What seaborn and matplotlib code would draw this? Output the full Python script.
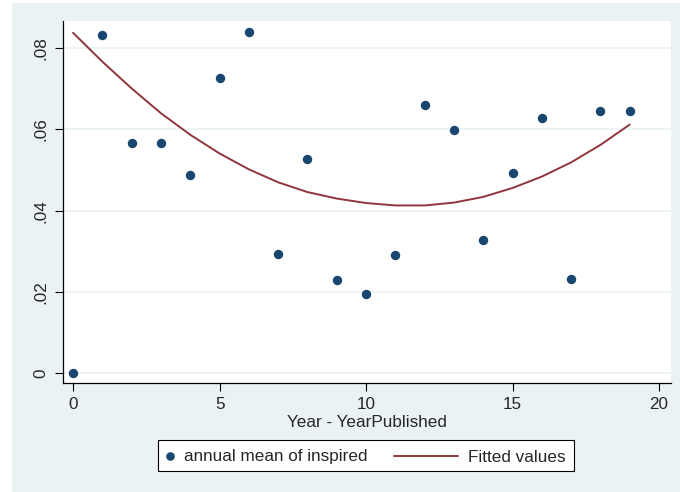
import numpy as np
import pandas as pd
import matplotlib
matplotlib.use("Agg")
import matplotlib.pyplot as plt
import seaborn as sns
from matplotlib.lines import Line2D
from matplotlib.patches import Rectangle

years = list(range(20))
inspired = [0.0, 0.0832, 0.0566, 0.0566, 0.0487, 0.0726, 0.0839, 0.0293, 0.0527, 0.0229,
            0.0194, 0.0290, 0.0660, 0.0598, 0.0327, 0.0492, 0.0628, 0.0231, 0.0645, 0.0645]
fitted = [0.0838, 0.0767, 0.0701, 0.0640, 0.0587, 0.0541, 0.0502, 0.0470, 0.0446, 0.0430,
          0.0419, 0.0413, 0.0413, 0.0420, 0.0434, 0.0456, 0.0484, 0.0519, 0.0562, 0.0612]
yticks = [0, 0.02, 0.04, 0.06, 0.08]
ytick_labels = ["0", ".02", ".04", ".06", ".08"]
xticks = [0, 5, 10, 15, 20]
legend_labels = ["annual mean of inspired", "Fitted values"]

df = pd.DataFrame({"x": years, "y": inspired, "fit": fitted})

sns.set_style("white")
plt.rcParams["font.family"] = ["Liberation Sans", "DejaVu Sans"]

NAVY = "#1A476F"
MAROON = "#90353B"
BG = "#EAF2F3"
FS = 12.3

W, H = 680, 492
fig = plt.figure(figsize=(6.8, 4.92), dpi=100, facecolor="white")
fig.patches.append(Rectangle((12 / W, 0), 1 - 12 / W, 1 - 3 / H,
                             transform=fig.transFigure, facecolor=BG,
                             edgecolor="none", zorder=-10))
ax = fig.add_axes([62.5 / W, 1 - 383 / H, (671 - 62.5) / W, (383 - 21) / H])
ax.set_facecolor("white")

sns.lineplot(data=df, x="x", y="fit", ax=ax, color=MAROON, lw=1.4, zorder=2)
sns.scatterplot(data=df, x="x", y="y", ax=ax, color=NAVY, s=46, edgecolor=NAVY,
                linewidth=0, zorder=3)

ax.set_xlim(-0.36, 20.41)
ax.set_ylim(-0.0024, 0.0867)
ax.set_yticks(yticks)
ax.set_yticklabels(ytick_labels, rotation=90, va="center")
ax.set_xticks(xticks)
ax.set_xticklabels([str(t) for t in xticks])
ax.tick_params(axis="both", direction="out", length=6, width=0.8, color="black",
               labelsize=FS, pad=4, left=True, bottom=True)
ax.grid(axis="y", color=BG, lw=1.2)
ax.set_axisbelow(True)
for s in ["top", "right"]:
    ax.spines[s].set_visible(False)
for s in ["left", "bottom"]:
    ax.spines[s].set_color("black")
    ax.spines[s].set_linewidth(0.9)

ax.set_xlabel("Year - YearPublished", fontsize=FS, labelpad=2)
ax.set_ylabel("")

# legend box (Stata-style, drawn in figure pixels)
def fx(px):
    return px / W

def fy(py):
    return 1 - py / H

fig.patches.append(Rectangle((fx(157.5), fy(471)), fx(574) - fx(157.5), fy(439.5) - fy(471),
                             transform=fig.transFigure, facecolor="white",
                             edgecolor="black", lw=0.8, zorder=5))
fig.add_artist(Line2D([fx(170)], [fy(456)], marker="o", ls="none", color=NAVY,
                      markersize=5.2, transform=fig.transFigure, zorder=6))
fig.text(fx(183.5), fy(461.5), legend_labels[0], fontsize=FS, va="baseline", ha="left", zorder=6)
fig.add_artist(Line2D([fx(394), fx(458)], [fy(455.7), fy(455.7)], color=MAROON, lw=1.4,
                      transform=fig.transFigure, zorder=6))
fig.text(fx(467.5), fy(461.5), legend_labels[1], fontsize=FS, va="baseline", ha="left", zorder=6)

fig.savefig("out.png", dpi=100, facecolor=fig.get_facecolor())
